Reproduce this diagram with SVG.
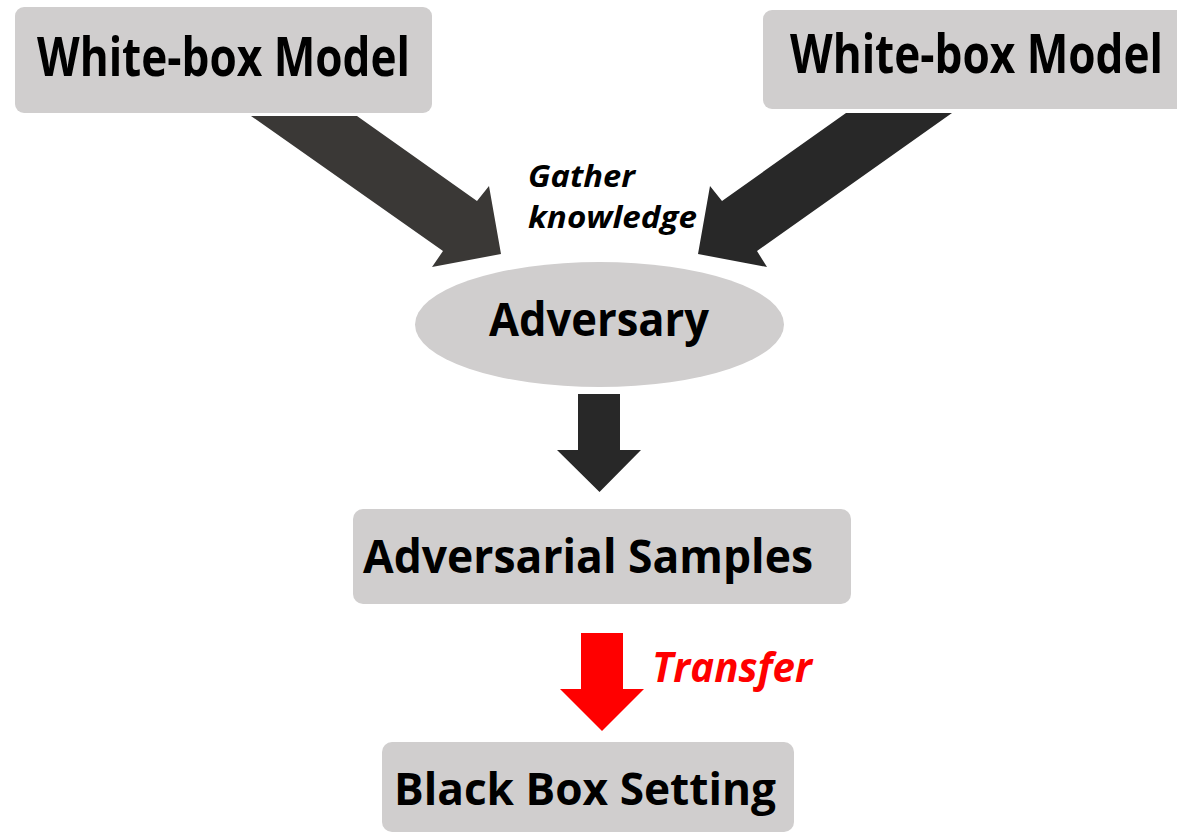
<svg xmlns="http://www.w3.org/2000/svg" width="1177" height="833" viewBox="0 0 1177 833">
  <style>
    .box { fill: #d0cece; }
    .label { font-family: "Open Sans", "Noto Sans", sans-serif; font-weight: 700; fill: #000; }
    .note { font-family: "Open Sans", "Noto Sans", sans-serif; font-weight: 700; font-style: italic; }
  </style>
  <rect width="1177" height="833" fill="#ffffff"/>

  <g id="connectors">
    <!-- left model to adversary -->
    <polygon fill="#3a3836" points="251,116 357,116 477,201 489,186 501,254 432,267 443,251"/>
    <!-- right model to adversary -->
    <polygon fill="#282828" points="952,113 846,113 722,201 710,186 698,254 767,267 757,251"/>
    <!-- adversary to samples -->
    <polygon fill="#282828" points="578,394 620,394 620,450 641,450 599.5,492 557,450 578,450"/>
    <!-- samples to black box -->
    <polygon fill="#ff0000" points="581,633 623,633 623,689 644,689 602,731 560,689 581,689"/>
    <text class="note" x="528" y="187" font-size="30" fill="#000" textLength="107" lengthAdjust="spacingAndGlyphs">Gather</text>
    <text class="note" x="528" y="228" font-size="30" fill="#000" textLength="169" lengthAdjust="spacingAndGlyphs">knowledge</text>
    <text class="note" x="652" y="682" font-size="41" fill="#ff0000" textLength="160" lengthAdjust="spacingAndGlyphs">Transfer</text>
  </g>

  <g id="whitebox-left">
    <rect class="box" x="15" y="7" width="417" height="106" rx="9"/>
    <text class="label" transform="translate(37,76) scale(1,1.18)" x="0" y="0" font-size="45" textLength="373" lengthAdjust="spacingAndGlyphs">White-box Model</text>
  </g>

  <g id="whitebox-right">
    <!-- box runs to the right edge of the canvas -->
    <path class="box" d="M772,10 H1177 V109 H772 A9,9 0 0 1 763,100 V19 A9,9 0 0 1 772,10 Z"/>
    <text class="label" transform="translate(790,73) scale(1,1.18)" x="0" y="0" font-size="45" textLength="373" lengthAdjust="spacingAndGlyphs">White-box Model</text>
  </g>

  <g id="adversary">
    <ellipse class="box" cx="599.5" cy="324.5" rx="184.5" ry="62.5"/>
    <text class="label" x="489" y="336" font-size="46" textLength="220" lengthAdjust="spacingAndGlyphs">Adversary</text>
  </g>

  <g id="adversarial-samples">
    <rect class="box" x="353" y="509" width="498" height="95" rx="10"/>
    <text class="label" x="363" y="573" font-size="47" textLength="450" lengthAdjust="spacingAndGlyphs">Adversarial Samples</text>
  </g>

  <g id="black-box-setting">
    <rect class="box" x="382" y="742" width="412" height="90" rx="10"/>
    <text class="label" x="394" y="805" font-size="45" textLength="382" lengthAdjust="spacingAndGlyphs">Black Box Setting</text>
  </g>
</svg>
